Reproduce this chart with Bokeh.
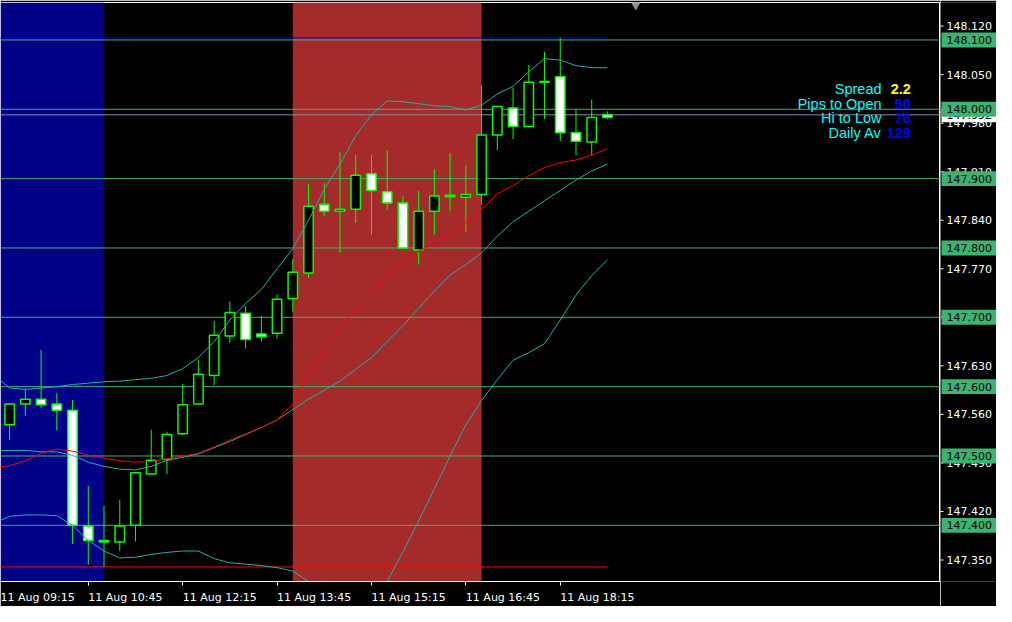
import numpy as np
from bokeh.plotting import figure
from bokeh.layouts import row
from bokeh.models import Range1d, FixedTicker, BoxAnnotation, Span, Label
from bokeh.core.properties import value
from bokeh.embed import file_html
from bokeh.resources import INLINE

# ---------------- data ----------------
DATE = "11 Aug"
times = ["09:30", "09:45", "10:00", "10:15", "10:30", "10:45", "11:00", "11:15", "11:30", "11:45",
         "12:00", "12:15", "12:30", "12:45", "13:00", "13:15", "13:30", "13:45", "14:00", "14:15",
         "14:30", "14:45", "15:00", "15:15", "15:30", "15:45", "16:00", "16:15", "16:30", "16:45",
         "17:00", "17:15", "17:30", "17:45", "18:00", "18:15", "18:30", "18:45", "19:00"]

opens = [147.545, 147.575, 147.582, 147.575, 147.566, 147.399, 147.378, 147.376, 147.400, 147.474,
         147.495, 147.532, 147.575, 147.616, 147.673, 147.706, 147.676, 147.677, 147.727, 147.764,
         147.863, 147.853, 147.856, 147.907, 147.881, 147.865, 147.797, 147.853, 147.874, 147.873,
         147.877, 147.963, 148.002, 147.975, 148.039, 148.047, 147.966, 147.953, 147.992]
highs = [147.576, 147.597, 147.653, 147.591, 147.581, 147.457, 147.428, 147.437, 147.476, 147.538,
         147.535, 147.604, 147.639, 147.695, 147.723, 147.716, 147.702, 147.733, 147.784, 147.892,
         147.893, 147.938, 147.934, 147.934, 147.941, 147.875, 147.882, 147.914, 147.937, 147.920,
         148.034, 148.004, 148.031, 148.064, 148.083, 148.103, 148.000, 148.014, 147.997]
lows = [147.523, 147.558, 147.569, 147.537, 147.373, 147.343, 147.340, 147.363, 147.377, 147.474,
        147.474, 147.530, 147.575, 147.602, 147.663, 147.655, 147.665, 147.669, 147.708, 147.757,
        147.846, 147.793, 147.836, 147.819, 147.854, 147.798, 147.776, 147.819, 147.853, 147.823,
        147.863, 147.941, 147.957, 147.974, 147.986, 147.954, 147.934, 147.933, 147.986]
closes = [147.575, 147.582, 147.574, 147.566, 147.400, 147.378, 147.376, 147.399, 147.476, 147.494,
          147.531, 147.574, 147.618, 147.674, 147.707, 147.668, 147.672, 147.726, 147.765, 147.860,
          147.853, 147.856, 147.905, 147.883, 147.865, 147.800, 147.853, 147.875, 147.876, 147.877,
          147.963, 148.004, 147.975, 148.039, 148.040, 147.966, 147.954, 147.988, 147.988]

# indicator values, bar -1 (just left of the view) .. bar 38
ind_bars = list(range(-1, 39))
bb_upper = [147.617, 147.598, 147.596, 147.598, 147.600, 147.603, 147.605, 147.607, 147.608, 147.610,
            147.612, 147.616, 147.626, 147.642, 147.665, 147.696, 147.720, 147.740, 147.770, 147.799,
            147.840, 147.885, 147.921, 147.962, 147.992, 148.012, 148.011, 148.008, 148.005, 148.004,
            147.999, 148.006, 148.022, 148.033, 148.054, 148.073, 148.071, 148.063, 148.060, 148.060]
bb_middle = [147.508, 147.508, 147.508, 147.506, 147.506, 147.501, 147.491, 147.485, 147.481, 147.480,
             147.485, 147.494, 147.498, 147.503, 147.512, 147.521, 147.531, 147.541, 147.552, 147.567,
             147.582, 147.595, 147.608, 147.625, 147.642, 147.665, 147.688, 147.713, 147.738, 147.761,
             147.776, 147.793, 147.817, 147.838, 147.853, 147.868, 147.883, 147.898, 147.911, 147.921]
bb_lower = [147.403, 147.413, 147.415, 147.415, 147.414, 147.400, 147.378, 147.363, 147.353, 147.354,
            147.358, 147.361, 147.363, 147.363, 147.352, 147.346, 147.344, 147.342, 147.339, 147.334,
            147.319, 147.305, 147.295, 147.288, 147.292, 147.319, 147.362, 147.406, 147.453, 147.500,
            147.545, 147.580, 147.610, 147.638, 147.649, 147.662, 147.696, 147.732, 147.760, 147.783]
ma_red = [147.483, 147.486, 147.493, 147.504, 147.510, 147.507, 147.501, 147.497, 147.493, 147.491,
          147.492, 147.496, 147.500, 147.504, 147.513, 147.523, 147.532, 147.541, 147.552, 147.575,
          147.617, 147.655, 147.684, 147.712, 147.736, 147.761, 147.778, 147.795, 147.807, 147.819,
          147.836, 147.856, 147.878, 147.890, 147.904, 147.916, 147.923, 147.927, 147.934, 147.943]

levels = [148.100, 148.000, 147.900, 147.800, 147.700, 147.600, 147.500, 147.400]
y_ticks = [148.120, 148.050, 147.980, 147.910, 147.840, 147.770, 147.700, 147.630,
           147.560, 147.490, 147.420, 147.350]
bid = 147.992
first_label = "09:15"          # label of the bar just left of the view
blue_session_end = "11:00"
red_session = ("14:00", "17:00")

info_labels = ["Spread", "Pips to Open", "Hi to Low", "Daily Av"]
info_values = ["2.2", "50", "76", "129"]
info_colors = ["#FFFF00", "#0000FF", "#0000FF", "#0000FF"]

# ---------------- styling / layout ----------------
LIME = "#00FF00"
GREEN = "#3CB371"
TEAL = "#20B2AA"
W, H = 996, 606
SCALE_W = 56
frame_w = W - SCALE_W
top_b, bot_b = 2, 20
frame_h = H - top_b - bot_b
x_start, x_end = -0.58, 59.17
y_start, y_end = 147.319, 148.154
px_x = frame_w / (x_end - x_start)
px_y = frame_h / (y_end - y_start)
yr = Range1d(y_start, y_end)

p = figure(width=frame_w, height=H, x_range=Range1d(x_start, x_end), y_range=yr,
           output_backend="svg", toolbar_location=None, tools="", y_axis_location=None,
           min_border_left=0, min_border_right=0, min_border_top=top_b, min_border_bottom=bot_b,
           background_fill_color="black", border_fill_color="black",
           outline_line_color="white")
p.xgrid.visible = False
p.ygrid.visible = False

# sessions
p.add_layout(BoxAnnotation(right=times.index(blue_session_end), fill_color="#000088",
                           fill_alpha=1.0, line_color=None, level="underlay"))
p.add_layout(BoxAnnotation(left=times.index(red_session[0]), right=times.index(red_session[1]),
                           fill_color="#A52A2A", fill_alpha=1.0, line_color=None, level="underlay"))

# round-number levels and bid line
for lv in levels:
    p.add_layout(Span(location=lv, dimension="width", line_color=GREEN, line_width=1,
                      level="underlay"))
p.add_layout(Span(location=bid, dimension="width", line_color="#8090A8", line_width=1,
                  level="underlay"))

idx = np.arange(len(times))
o = np.array(opens); h = np.array(highs); l = np.array(lows); c = np.array(closes)

# day high / low lines
day_hi, day_lo = float(h.max()), float(l.min())
p.segment(x0=[-1, -1], y0=[day_hi, day_lo], x1=[idx[-1], idx[-1]], y1=[day_hi, day_lo],
          line_color=["#0000FF", "#FF0000"], line_width=1)

# candles
p.segment(x0=idx, y0=l, x1=idx, y1=h, line_color=LIME, line_width=1)
fills = ["black" if cc >= oo else "white" for oo, cc in zip(o, c)]
p.vbar(x=idx, width=0.6, top=np.maximum(o, c), bottom=np.minimum(o, c),
       fill_color=fills, line_color=LIME, line_width=1.5)

# indicators
p.line(ind_bars, bb_upper, line_color=TEAL, line_width=1)
p.line(ind_bars, bb_middle, line_color=TEAL, line_width=1)
p.line(ind_bars, bb_lower, line_color=TEAL, line_width=1)
p.line(ind_bars, ma_red, line_color="#FF0000", line_width=1)

# chart-shift marker
p.scatter(x=[idx[-1] + 1.8], y=[y_end - 0.003], marker="inverted_triangle", size=9,
          fill_color="#909090", line_color="#909090")

# time axis: tick marks at the bars (minor ticks), labels left-aligned at them
tick_bars = [-1] + list(range(5, len(times), 6))
half_label = 37.1 / px_x                       # half width of "11 Aug 10:45" at 11px
label_pos = [round(b + half_label, 4) for b in tick_bars]
xa = p.xaxis[0]
xa.ticker = FixedTicker(ticks=label_pos, minor_ticks=tick_bars)
xa.major_label_overrides = {lp: f"{DATE} {first_label if b < 0 else times[b]}"
                            for lp, b in zip(label_pos, tick_bars)}
xa.axis_line_color = "white"
xa.major_tick_line_color = None
xa.major_tick_out = 0
xa.major_tick_in = 0
xa.minor_tick_line_color = "white"
xa.minor_tick_out = 4
xa.minor_tick_in = 0
xa.major_label_text_color = "white"
xa.major_label_text_font = "DejaVu Sans"
xa.major_label_text_font_size = "11px"
xa.major_label_standoff = 5

# info panel
info_top = 148.029
row_step = 0.0211
name_x = 55.42
val_x = 57.29
for i, (nm, vv, col) in enumerate(zip(info_labels, info_values, info_colors)):
    yy = info_top - i * row_step
    p.add_layout(Label(x=name_x, y=yy, text=nm, text_color="#00FFFF",
                       text_font="Liberation Sans", text_font_size="14.5px",
                       text_align="right", text_baseline="middle"))
    p.add_layout(Label(x=val_x, y=yy, text=vv, text_color=col, text_font_style="bold",
                       text_font="Liberation Sans", text_font_size="14.5px",
                       text_align="right", text_baseline="middle"))

# ---------------- price scale (shares the price range) ----------------
s = figure(width=SCALE_W, height=H, x_range=Range1d(0, SCALE_W), y_range=yr,
           output_backend="svg", toolbar_location=None, tools="",
           x_axis_location=None, y_axis_location=None,
           min_border_left=0, min_border_right=0, min_border_top=top_b, min_border_bottom=bot_b,
           background_fill_color="black", border_fill_color="black", outline_line_color=None)
s.xgrid.visible = False
s.ygrid.visible = False

tick_text = [f"{t:.3f}" for t in y_ticks]
shown = [i for i, t in enumerate(y_ticks) if all(abs(t - lv) > 1e-9 for lv in levels)]
s.segment(x0=[0] * len(y_ticks), y0=y_ticks, x1=[3] * len(y_ticks), y1=y_ticks,
          line_color="white", line_width=1)
s.text(x=[6] * len(shown), y=[y_ticks[i] for i in shown], text=[tick_text[i] for i in shown],
       text_color="white", text_font=value("DejaVu Sans"), text_font_size="11px",
       text_align="left", text_baseline="middle")

box_h = 7.5 / px_y
# bid label (white)
s.quad(left=[1], right=[SCALE_W], bottom=[bid - box_h], top=[bid + box_h],
       fill_color="white", line_color=None)
s.text(x=[6], y=[bid], text=[f"{bid:.3f}"], text_color="black",
       text_font=value("DejaVu Sans"), text_font_size="11px",
       text_align="left", text_baseline="middle")
# level labels (green)
s.quad(left=[1] * len(levels), right=[SCALE_W] * len(levels),
       bottom=[lv - box_h for lv in levels], top=[lv + box_h for lv in levels],
       fill_color=GREEN, line_color=None)
s.text(x=[6] * len(levels), y=levels, text=[f"{lv:.3f}" for lv in levels], text_color="black",
       text_font=value("DejaVu Sans"), text_font_size="11px",
       text_align="left", text_baseline="middle")

layout = row(p, s, spacing=0)
open("out.html", "w").write(file_html(layout, INLINE))
